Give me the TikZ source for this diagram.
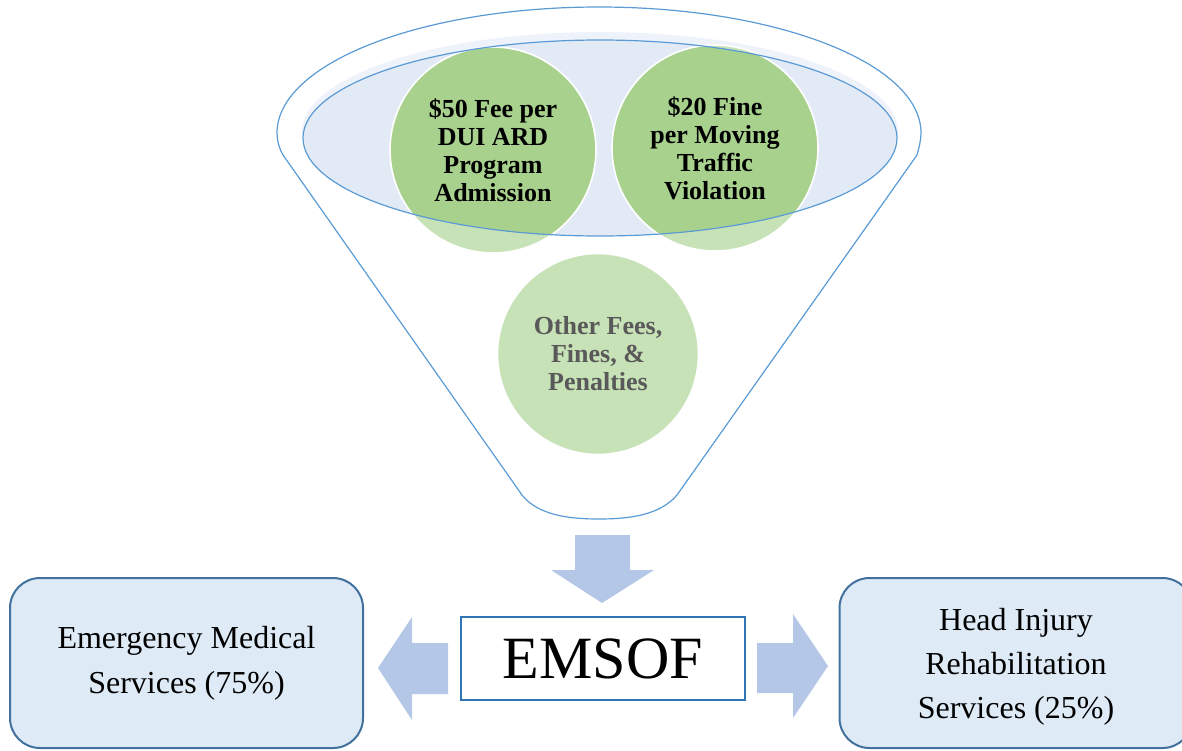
\documentclass[tikz,border=0pt]{standalone}
\usepackage{fontspec}
\setmainfont{Liberation Serif}
\usetikzlibrary{positioning, calc}

\definecolor{rim}{RGB}{91,155,213}
\definecolor{rimfill}{RGB}{226,234,246}
\definecolor{rimglow}{RGB}{238,242,250}
\definecolor{leafdark}{RGB}{169,209,142}
\definecolor{leaflight}{RGB}{200,226,184}
\definecolor{greytext}{RGB}{89,89,89}
\definecolor{flowblue}{RGB}{180,199,231}
\definecolor{boxfill}{RGB}{222,234,246}
\definecolor{boxline}{RGB}{65,113,156}
\definecolor{fundline}{RGB}{46,117,182}

\tikzset{
    source/.style={
        circle,
        draw=white,
        line width=0.8pt,
        fill=leaflight,
        minimum size=103pt,
        inner sep=0pt,
        align=center,
        font=\fontsize{13}{14}\selectfont\bfseries
    },
    inrim/.style={
        source,
        path picture={\fill[leafdark] (rimc) ellipse [x radius=148.5pt, y radius=49pt];}
    },
    service/.style={
        rectangle,
        rounded corners=15pt,
        draw=boxline,
        line width=1pt,
        fill=boxfill,
        minimum width=176.5pt,
        minimum height=85pt,
        align=center,
        font=\fontsize{16}{22.5}\selectfont
    },
    fund/.style={
        rectangle,
        draw=fundline,
        line width=0.8pt,
        fill=white,
        minimum width=142pt,
        minimum height=41.5pt,
        font=\fontsize{30}{30}\selectfont
    },
    flow/.style={fill=flowblue}
}

\begin{document}
\begin{tikzpicture}[x=0.5pt, y=-0.5pt]

\useasboundingbox (0,0) rectangle (1182,750);
\clip (0,0) rectangle (1182,750);

% funnel outline
\draw[rim, line width=0.6pt] (522,495) -- (283,155)
    .. controls (279,148) and (277,140) .. (277,133)
    arc [start angle=180, end angle=0, x radius=161pt, y radius=63pt]
    .. controls (921,140) and (919,148) .. (917,155)
    -- (677,495)
    .. controls (660,515) and (630,519) .. (599,519)
    .. controls (568,519) and (538,515) .. (522,495);

% rim of the funnel
\coordinate (rimc) at (600,138);
\fill[rimglow] (600,132) ellipse [x radius=149pt, y radius=50pt];
\fill[rimfill] (rimc) ellipse [x radius=148.5pt, y radius=49pt];

\node[inrim] (fee) at (493,150) {\$50 Fee per\\DUI ARD\\Program\\Admission};
\node[inrim] (fine) at (715,148) {\$20 Fine\\per Moving\\Traffic\\Violation};
\node[source, minimum size=100.5pt, text=greytext] (other) at (598,354) {Other Fees,\\Fines, \&\\Penalties};

\draw[rim, line width=0.6pt] (rimc) ellipse [x radius=148.5pt, y radius=49pt];

% fund and its two shares
\node[fund] (emsof) at (603,658.5) {EMSOF};
\node[service] (ems) at (186.5,663) {Emergency Medical\\Services (75\%)};
\node[service, font=\fontsize{16}{22}\selectfont, text depth=-4pt] (head) at (1016,663) {Head Injury\\Rehabilitation\\Services (25\%)};

\fill[flow] (575,535) -- (630,535) -- (630,570) -- (654,570) -- (602,603)
    -- (551,570) -- (575,570) -- cycle;
\fill[flow] (448,643) -- (412,643) -- (412,617) -- (378,668) -- (412,720)
    -- (412,694) -- (448,694) -- cycle;
\fill[flow] (757,643) -- (793,643) -- (793,614) -- (828,666) -- (793,718)
    -- (793,693) -- (757,693) -- cycle;

\end{tikzpicture}
\end{document}
